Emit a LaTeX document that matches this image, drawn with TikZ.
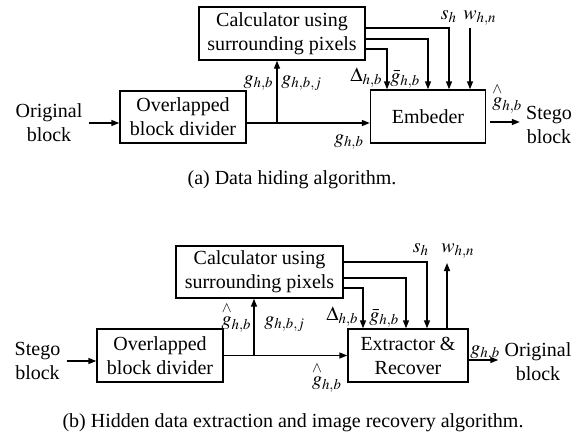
\documentclass[tikz,border=0pt]{standalone}
\usepackage{amsmath}
\usepackage{mathptmx}
\usepackage[no-math]{fontspec}
\setmainfont{Liberation Serif}
\usetikzlibrary{arrows.meta}

\begin{document}
\begin{tikzpicture}[x=0.5pt,y=-0.5pt,
  every node/.style={font=\fontsize{10}{12}\selectfont},
  box/.style={draw, line width=0.7pt, align=center, inner sep=0pt},
  txt/.style={align=center, inner sep=3pt},
  lab/.style={inner sep=0pt, anchor=base},
  arr/.style={line width=0.7pt, -{Triangle[length=4pt,width=3pt]}}]
\useasboundingbox (0,0) rectangle (587,439);

% ---------- (a) data hiding ----------
\node[box, minimum width=63pt, minimum height=26pt] (div1) at (183,117) {Overlapped\\block divider};
\node[box, minimum width=83pt, minimum height=26.5pt] (calc1) at (282,33.5) {Calculator using\\surrounding pixels};
\node[box, minimum width=57.5pt, minimum height=26.5pt] (emb) at (428,116.5) {Embeder};
\node[txt] (orig1) at (49,123) {Original\\block};
\node[txt] (stego1) at (549,125) {Stego\\block};

\draw[arr] (orig1.east) -- (orig1.east -| div1.west);
\draw[arr] ([yshift=-3pt]div1.east) -- ([yshift=-3pt]div1.east -| emb.west);
\coordinate (br1) at (277,123);
\draw[arr] (br1) -- (br1 |- calc1.south);
\draw[arr] ([yshift=2.75pt]calc1.east) -| ([xshift=10.5pt]emb.north);
\draw[arr] ([yshift=-2.75pt]calc1.east) -| (emb.north);
\draw[arr] ([yshift=-7.75pt]calc1.east) -| ([xshift=-20.5pt]emb.north);
\coordinate (w1s) at (470,28);
\draw[arr] (w1s) -- (w1s |- emb.north);
\coordinate (e1o) at (490,122);
\draw[arr] (e1o) -- (e1o -| stego1.west);

\node[lab, anchor=base east] (a1) at (274,84) {$g_{h,b}$};
\node[lab, anchor=base west] (a2) at (281,84) {$g_{h,b,j}$};
\node[lab, anchor=base east] (a3) at (383,81) {$\Delta_{h,b}$};
\node[lab, anchor=base west] (a4) at (390,82) {$\bar{g}_{h,b}$};
\node[lab] (a5) at (449,19) {$s_h$};
\node[lab] (a6) at (480,19) {$w_{h,n}$};
\node[lab, anchor=base west] (a7) at (492,106) {$\overset{\wedge}{g}_{h,b}$};
\node[lab] (a8) at (349,143) {$g_{h,b}$};

\node (capa) at (292,180) {(a) Data hiding algorithm.};

% ---------- (b) extraction and recovery ----------
\node[box, minimum width=63pt, minimum height=26.5pt] (div2) at (160,355.5) {Overlapped\\block divider};
\node[box, minimum width=83.5pt, minimum height=26pt] (calc2) at (259.5,272) {Calculator using\\surrounding pixels};
\node[box, minimum width=60pt, minimum height=26.5pt] (ext) at (408,355.5) {Extractor \&\\Recover};
\node[txt] (stego2) at (37.5,361) {Stego\\block};
\node[txt] (orig2) at (538,362) {Original\\block};

\draw[arr] (stego2.east) -- (stego2.east -| div2.west);
\draw[arr] (div2.east) -- (div2.east -| ext.west);
\coordinate (br2) at (254,355.5);
\draw[arr] (br2) -- (br2 |- calc2.south);
\draw[arr] ([yshift=5pt]calc2.east) -| ([xshift=9.5pt]ext.north);
\draw[arr] ([yshift=-3pt]calc2.east) -| ([xshift=-1pt]ext.north);
\draw[arr] ([yshift=-8pt]calc2.east) -| ([xshift=-22.5pt]ext.north);
\coordinate (w2e) at (447,263);
\draw[arr] (w2e |- ext.north) -- (w2e);
\draw[arr] ([yshift=-2.25pt]ext.east) -- ([yshift=-2.25pt]ext.east -| orig2.west);

\node[lab, anchor=base east] (b1) at (252,325) {$\overset{\wedge}{g}_{h,b}$};
\node[lab, anchor=base west] (b2) at (264,325) {$g_{h,b,j}$};
\node[lab, anchor=base east] (b3) at (359,320) {$\Delta_{h,b}$};
\node[lab, anchor=base west] (b4) at (369,321) {$\bar{g}_{h,b}$};
\node[lab] (b5) at (421,252) {$s_h$};
\node[lab] (b6) at (458,252) {$w_{h,n}$};
\node[lab] (b7) at (327,385) {$\overset{\wedge}{g}_{h,b}$};
\node[lab, anchor=base west] (b8) at (470,354) {$g_{h,b}$};

\node (capb) at (293,423) {(b) Hidden data extraction and image recovery algorithm.};
\end{tikzpicture}
\end{document}
